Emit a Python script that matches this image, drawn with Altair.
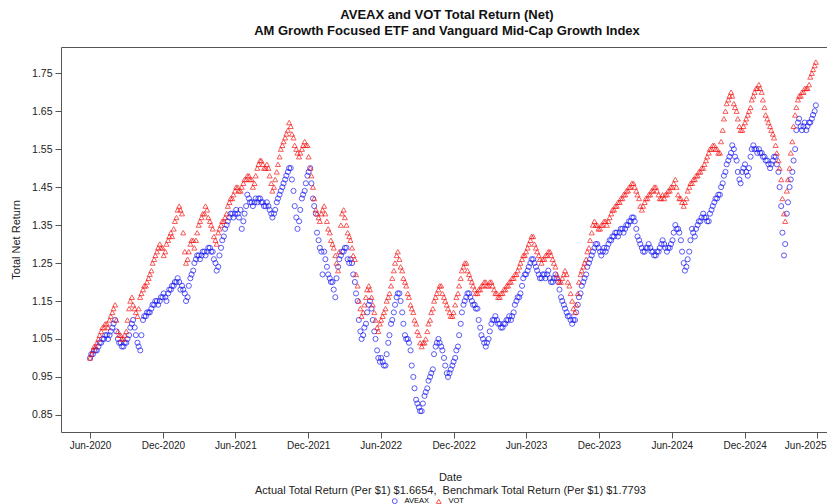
import altair as alt
import pandas as pd

# Readings taken twice a week (Monday and Thursday), starting Monday 2020-06-01
start_date = "2020-06-01"

aveax_mon = [
    1.00, 1.01, 1.02, 1.03, 1.04, 1.05, 1.06, 1.06, 1.08, 1.10,
    1.05, 1.04, 1.03, 1.04, 1.06, 1.09, 1.08, 1.04, 1.02, 1.10,
    1.11, 1.12, 1.13, 1.14, 1.15, 1.15, 1.16, 1.16, 1.17, 1.18,
    1.19, 1.20, 1.20, 1.19, 1.17, 1.16, 1.21, 1.23, 1.26, 1.27,
    1.27, 1.28, 1.28, 1.29, 1.28, 1.25, 1.24, 1.29, 1.32, 1.35,
    1.37, 1.38, 1.38, 1.38, 1.39, 1.36, 1.40, 1.42, 1.41, 1.41,
    1.41, 1.42, 1.41, 1.40, 1.40, 1.38, 1.38, 1.41, 1.43, 1.45,
    1.47, 1.49, 1.50, 1.44, 1.37, 1.36, 1.42, 1.44, 1.48, 1.50,
    1.42, 1.38, 1.31, 1.28, 1.28, 1.24, 1.21, 1.20, 1.16, 1.24,
    1.27, 1.28, 1.29, 1.25, 1.25, 1.20, 1.15, 1.07, 1.06, 1.09,
    1.14, 1.13, 1.07, 1.02, 0.99, 0.99, 0.98, 1.04, 1.09, 1.12,
    1.16, 1.17, 1.12, 1.06, 1.05, 1.02, 0.95, 0.89, 0.87, 0.86,
    0.90, 0.92, 0.95, 0.97, 1.03, 1.05, 1.03, 1.00, 0.96, 0.96,
    0.98, 1.00, 1.03, 1.09, 1.14, 1.16, 1.17, 1.15, 1.14, 1.13,
    1.08, 1.05, 1.03, 1.05, 1.09, 1.10, 1.10, 1.09, 1.08, 1.09,
    1.10, 1.10, 1.12, 1.15, 1.16, 1.19, 1.22, 1.23, 1.25, 1.26,
    1.24, 1.22, 1.21, 1.22, 1.22, 1.21, 1.20, 1.22, 1.20, 1.16,
    1.14, 1.12, 1.11, 1.09, 1.10, 1.14, 1.17, 1.20, 1.22, 1.25,
    1.27, 1.29, 1.30, 1.28, 1.28, 1.28, 1.30, 1.31, 1.32, 1.33,
    1.33, 1.34, 1.34, 1.35, 1.36, 1.37, 1.34, 1.31, 1.29, 1.28,
    1.29, 1.29, 1.28, 1.27, 1.28, 1.30, 1.30, 1.28, 1.29, 1.31,
    1.35, 1.34, 1.31, 1.25, 1.24, 1.28, 1.34, 1.32, 1.35, 1.36,
    1.38, 1.37, 1.36, 1.39, 1.41, 1.42, 1.43, 1.46, 1.49, 1.52,
    1.54, 1.55, 1.52, 1.47, 1.49, 1.51, 1.48, 1.53, 1.56, 1.55,
    1.55, 1.54, 1.53, 1.52, 1.50, 1.52, 1.53, 1.49, 1.40, 1.27,
    1.38, 1.45, 1.49, 1.55, 1.62, 1.61, 1.61, 1.60, 1.62, 1.63,
    1.65,
]

aveax_thu = [
    1.01, 1.02, 1.02, 1.04, 1.05, 1.06, 1.05, 1.07, 1.09, 1.07,
    1.04, 1.03, 1.04, 1.05, 1.08, 1.10, 1.06, 1.03, 1.06, 1.11,
    1.12, 1.12, 1.14, 1.15, 1.14, 1.16, 1.17, 1.15, 1.18, 1.19,
    1.20, 1.21, 1.18, 1.18, 1.15, 1.19, 1.22, 1.25, 1.27, 1.26,
    1.28, 1.27, 1.29, 1.28, 1.26, 1.23, 1.27, 1.31, 1.34, 1.36,
    1.38, 1.37, 1.39, 1.37, 1.34, 1.38, 1.43, 1.41, 1.40, 1.42,
    1.42, 1.41, 1.40, 1.41, 1.39, 1.37, 1.39, 1.42, 1.44, 1.46,
    1.48, 1.50, 1.47, 1.40, 1.34, 1.39, 1.43, 1.46, 1.49, 1.46,
    1.40, 1.33, 1.29, 1.22, 1.26, 1.22, 1.20, 1.18, 1.21, 1.26,
    1.28, 1.29, 1.26, 1.26, 1.22, 1.17, 1.10, 1.05, 1.08, 1.12,
    1.15, 1.10, 1.05, 1.00, 1.00, 0.98, 1.01, 1.06, 1.10, 1.14,
    1.17, 1.15, 1.09, 1.05, 1.04, 0.98, 0.92, 0.88, 0.86, 0.88,
    0.91, 0.94, 0.96, 1.01, 1.04, 1.04, 1.02, 0.98, 0.95, 0.97,
    0.99, 1.02, 1.06, 1.12, 1.15, 1.17, 1.16, 1.14, 1.13, 1.10,
    1.06, 1.04, 1.04, 1.07, 1.10, 1.11, 1.09, 1.08, 1.09, 1.10,
    1.11, 1.11, 1.14, 1.16, 1.17, 1.21, 1.22, 1.24, 1.26, 1.25,
    1.23, 1.21, 1.22, 1.21, 1.23, 1.20, 1.21, 1.21, 1.18, 1.15,
    1.13, 1.11, 1.10, 1.10, 1.12, 1.16, 1.19, 1.21, 1.24, 1.26,
    1.28, 1.30, 1.29, 1.27, 1.29, 1.29, 1.31, 1.32, 1.33, 1.32,
    1.34, 1.33, 1.35, 1.36, 1.37, 1.36, 1.32, 1.30, 1.28, 1.29,
    1.30, 1.28, 1.27, 1.28, 1.29, 1.31, 1.29, 1.29, 1.30, 1.33,
    1.34, 1.33, 1.28, 1.23, 1.26, 1.31, 1.33, 1.34, 1.36, 1.37,
    1.37, 1.36, 1.38, 1.40, 1.42, 1.43, 1.45, 1.48, 1.51, 1.53,
    1.56, 1.53, 1.49, 1.46, 1.50, 1.49, 1.50, 1.55, 1.55, 1.54,
    1.54, 1.53, 1.52, 1.51, 1.51, 1.53, 1.51, 1.45, 1.33, 1.30,
    1.41, 1.47, 1.52, 1.60, 1.63, 1.60, 1.62, 1.61, 1.62, 1.64,
    1.6654,
]

vot_mon = [
    1.00, 1.02, 1.03, 1.05, 1.07, 1.08, 1.09, 1.10, 1.12, 1.14,
    1.07, 1.06, 1.05, 1.07, 1.13, 1.16, 1.13, 1.11, 1.16, 1.18,
    1.19, 1.21, 1.23, 1.26, 1.28, 1.30, 1.29, 1.28, 1.31, 1.33,
    1.34, 1.37, 1.40, 1.38, 1.28, 1.26, 1.30, 1.31, 1.31, 1.35,
    1.37, 1.38, 1.39, 1.36, 1.34, 1.31, 1.33, 1.35, 1.36, 1.38,
    1.41, 1.42, 1.44, 1.45, 1.44, 1.46, 1.47, 1.48, 1.47, 1.46,
    1.50, 1.52, 1.51, 1.50, 1.50, 1.46, 1.45, 1.49, 1.53, 1.56,
    1.58, 1.60, 1.61, 1.58, 1.55, 1.53, 1.55, 1.57, 1.56, 1.50,
    1.45, 1.39, 1.37, 1.38, 1.40, 1.36, 1.33, 1.30, 1.27, 1.23,
    1.35, 1.39, 1.35, 1.32, 1.29, 1.26, 1.19, 1.13, 1.12, 1.16,
    1.19, 1.16, 1.12, 1.08, 1.09, 1.11, 1.13, 1.16, 1.19, 1.23,
    1.27, 1.26, 1.23, 1.20, 1.17, 1.14, 1.12, 1.09, 1.06, 1.03,
    1.04, 1.07, 1.10, 1.13, 1.16, 1.18, 1.19, 1.16, 1.14, 1.12,
    1.11, 1.14, 1.17, 1.21, 1.24, 1.25, 1.22, 1.20, 1.18, 1.17,
    1.18, 1.19, 1.20, 1.19, 1.20, 1.18, 1.17, 1.16, 1.17, 1.18,
    1.19, 1.20, 1.21, 1.22, 1.24, 1.26, 1.27, 1.29, 1.31, 1.32,
    1.29, 1.27, 1.25, 1.26, 1.27, 1.28, 1.26, 1.24, 1.21, 1.20,
    1.22, 1.22, 1.19, 1.15, 1.12, 1.17, 1.22, 1.24, 1.26, 1.29,
    1.33, 1.36, 1.35, 1.34, 1.35, 1.36, 1.36, 1.38, 1.39, 1.40,
    1.41, 1.42, 1.43, 1.44, 1.45, 1.46, 1.44, 1.42, 1.39, 1.41,
    1.42, 1.43, 1.44, 1.45, 1.43, 1.42, 1.42, 1.43, 1.44, 1.45,
    1.47, 1.43, 1.42, 1.40, 1.42, 1.45, 1.46, 1.47, 1.48, 1.49,
    1.50, 1.52, 1.54, 1.55, 1.56, 1.55, 1.54, 1.60, 1.65, 1.68,
    1.70, 1.67, 1.65, 1.61, 1.60, 1.62, 1.64, 1.66, 1.69, 1.71,
    1.72, 1.70, 1.66, 1.63, 1.61, 1.59, 1.56, 1.52, 1.47, 1.38,
    1.44, 1.50, 1.57, 1.64, 1.68, 1.69, 1.70, 1.71, 1.72, 1.75,
    1.77,
]

vot_thu = [
    1.01, 1.03, 1.04, 1.06, 1.08, 1.09, 1.08, 1.11, 1.13, 1.10,
    1.06, 1.05, 1.06, 1.10, 1.15, 1.14, 1.12, 1.13, 1.17, 1.19,
    1.20, 1.22, 1.25, 1.27, 1.29, 1.29, 1.27, 1.30, 1.32, 1.32,
    1.36, 1.39, 1.39, 1.33, 1.25, 1.28, 1.31, 1.29, 1.33, 1.36,
    1.38, 1.40, 1.37, 1.35, 1.32, 1.30, 1.34, 1.36, 1.37, 1.40,
    1.42, 1.43, 1.45, 1.44, 1.45, 1.47, 1.48, 1.47, 1.45, 1.48,
    1.51, 1.52, 1.50, 1.51, 1.48, 1.44, 1.47, 1.51, 1.55, 1.57,
    1.59, 1.62, 1.59, 1.56, 1.54, 1.54, 1.56, 1.56, 1.53, 1.48,
    1.42, 1.38, 1.36, 1.39, 1.38, 1.34, 1.31, 1.29, 1.25, 1.28,
    1.38, 1.37, 1.33, 1.31, 1.27, 1.22, 1.15, 1.11, 1.14, 1.18,
    1.18, 1.14, 1.10, 1.07, 1.10, 1.12, 1.15, 1.17, 1.21, 1.25,
    1.28, 1.24, 1.21, 1.19, 1.16, 1.13, 1.10, 1.07, 1.04, 1.04,
    1.05, 1.09, 1.12, 1.15, 1.17, 1.19, 1.17, 1.15, 1.13, 1.11,
    1.12, 1.16, 1.19, 1.23, 1.25, 1.23, 1.21, 1.19, 1.17, 1.18,
    1.19, 1.20, 1.19, 1.20, 1.19, 1.17, 1.16, 1.17, 1.18, 1.19,
    1.20, 1.21, 1.22, 1.23, 1.25, 1.27, 1.28, 1.30, 1.32, 1.30,
    1.28, 1.26, 1.26, 1.27, 1.28, 1.27, 1.25, 1.22, 1.20, 1.21,
    1.23, 1.20, 1.17, 1.13, 1.14, 1.20, 1.23, 1.25, 1.28, 1.31,
    1.35, 1.35, 1.34, 1.35, 1.36, 1.35, 1.37, 1.39, 1.40, 1.41,
    1.42, 1.43, 1.44, 1.45, 1.46, 1.45, 1.43, 1.40, 1.40, 1.42,
    1.43, 1.44, 1.45, 1.44, 1.42, 1.43, 1.43, 1.44, 1.45, 1.46,
    1.45, 1.42, 1.41, 1.41, 1.44, 1.46, 1.47, 1.48, 1.49, 1.50,
    1.51, 1.53, 1.55, 1.56, 1.55, 1.54, 1.57, 1.63, 1.67, 1.69,
    1.69, 1.66, 1.63, 1.60, 1.61, 1.63, 1.65, 1.68, 1.70, 1.71,
    1.71, 1.68, 1.64, 1.62, 1.60, 1.58, 1.54, 1.50, 1.42, 1.36,
    1.47, 1.54, 1.61, 1.66, 1.69, 1.70, 1.71, 1.71, 1.74, 1.76,
    1.7793,
]

series_names = ["AVEAX", "VOT"]
series_colors = ["#1414f5", "#f51414"]
series_shapes = ["circle", "triangle-up"]

x_tick_dates = [(2020, 6), (2020, 12), (2021, 6), (2021, 12), (2022, 6), (2022, 12),
                (2023, 6), (2023, 12), (2024, 6), (2024, 12), (2025, 6)]
y_ticks = [0.85, 0.95, 1.05, 1.15, 1.25, 1.35, 1.45, 1.55, 1.65, 1.75]

title_lines = ["AVEAX and VOT Total Return (Net)",
               "AM Growth Focused ETF and Vanguard Mid-Cap Growth Index"]
x_title_lines = ["Date",
                 "Actual Total Return (Per $1) $1.6654,\u00a0 Benchmark Total Return (Per $1) $1.7793"]

mondays = pd.date_range(start_date, periods=len(vot_mon), freq="7D")
thursdays = mondays + pd.Timedelta(days=3)
df = pd.concat([
    pd.DataFrame({"Date": mondays, "Return": aveax_mon, "Series": "AVEAX"}),
    pd.DataFrame({"Date": thursdays, "Return": aveax_thu, "Series": "AVEAX"}),
    pd.DataFrame({"Date": mondays, "Return": vot_mon, "Series": "VOT"}),
    pd.DataFrame({"Date": thursdays, "Return": vot_thu, "Series": "VOT"}),
], ignore_index=True)

FONT = "Liberation Sans"
FRAME = "#555555"

x_scale = alt.Scale(domain=[alt.DateTime(year=2020, month=3, date=20),
                            alt.DateTime(year=2025, month=6, date=26)])
y_scale = alt.Scale(domain=[0.805, 1.819], nice=False, zero=False)
y_axis = alt.Axis(values=y_ticks, format=".2f", title="Total Net Return",
                  grid=False, domain=True, tickSize=6, labelPadding=3,
                  titlePadding=10, labelFontSize=10.5, titleFontSize=11)

legend = alt.Legend(
    orient="none", legendX=330, legendY=450, direction="horizontal", title=None,
    labelFontSize=7.5, labelFont=FONT, symbolSize=24, symbolStrokeWidth=1,
    columnPadding=5, labelOffset=6, symbolFillColor="transparent",
)

points = alt.Chart(df).mark_point(filled=False, size=26, strokeWidth=1).encode(
    x=alt.X(
        "Date:T", scale=x_scale,
        axis=alt.Axis(
            values=[alt.DateTime(year=y, month=m, date=1) for y, m in x_tick_dates],
            format="%b-%Y", title=x_title_lines, grid=False, domain=True,
            tickSize=6, labelPadding=2, labelFontSize=10,
            labelFlush=12, labelFlushOffset=9,
            titlePadding=21, titleLineHeight=13, titleFontSize=11, titleX=389,
        ),
    ),
    y=alt.Y("Return:Q", scale=y_scale, axis=y_axis),
    color=alt.Color("Series:N", scale=alt.Scale(domain=series_names, range=series_colors),
                    legend=legend),
    shape=alt.Shape("Series:N", scale=alt.Scale(domain=series_names, range=series_shapes),
                    legend=legend),
)

# invisible layer that only carries the top edge of the plot frame
top_edge = alt.Chart(df).mark_point(opacity=0).encode(
    x=alt.X("Date:T", scale=x_scale,
            axis=alt.Axis(orient="top", labels=False, ticks=False, title=None,
                          grid=False, domain=True)),
    y=alt.Y("Return:Q", scale=y_scale, axis=y_axis),
)

chart = alt.layer(points, top_edge).resolve_axis(x="independent").properties(
    width=766,
    height=385,
    title=alt.TitleParams(text=title_lines, fontSize=13, font=FONT, fontWeight="bold",
                          lineHeight=16, offset=9, anchor="middle", frame="group",
                          dx=3, color="#111"),
    autosize=alt.AutoSizeParams(type="none"),
    padding={"left": 53, "top": 39, "right": 0, "bottom": 72},
).configure_view(
    stroke=None,
).configure_axis(
    labelFont=FONT, titleFont=FONT,
    titleFontWeight="normal", labelColor="#222", titleColor="#222",
    tickColor=FRAME, domainColor=FRAME, domainWidth=1,
)

chart.save("out.html", embed_options={"renderer": "svg", "actions": False})
